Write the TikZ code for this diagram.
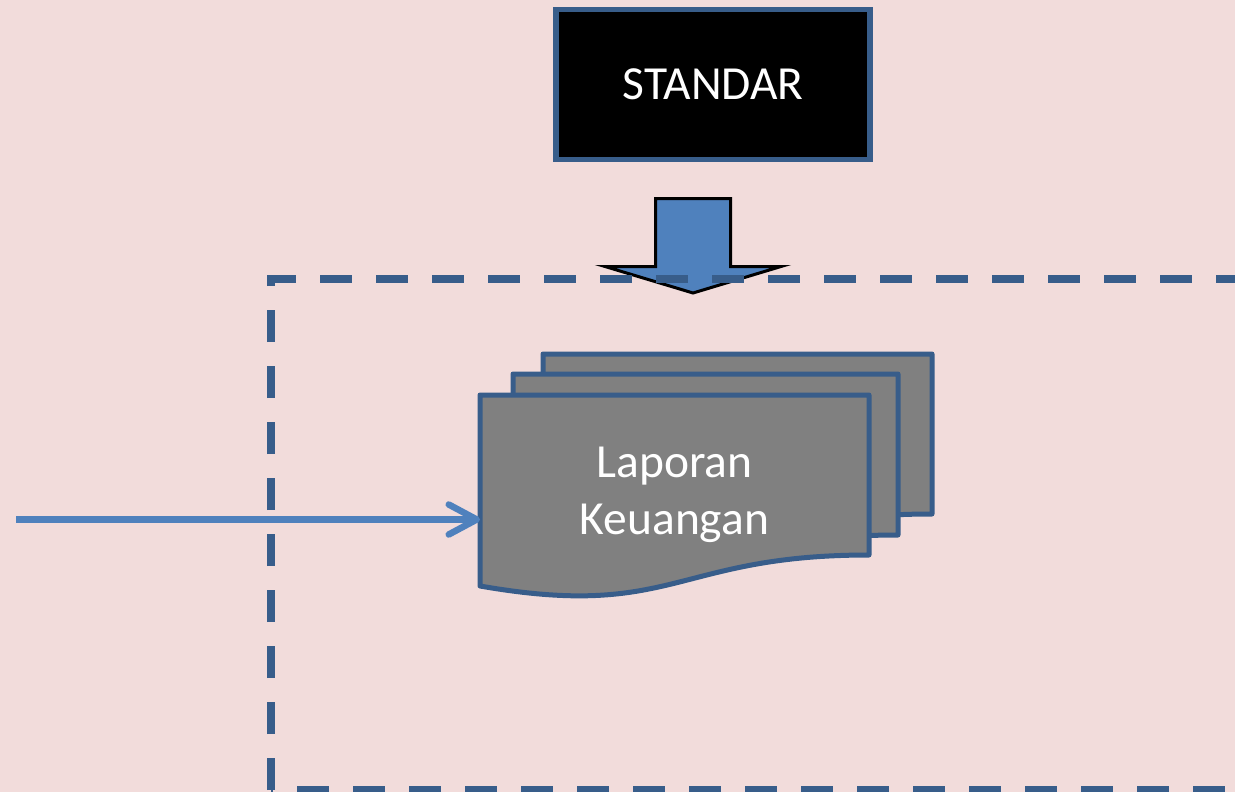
\documentclass[tikz,border=0pt]{standalone}
\usepackage{fontspec}
\setmainfont{Carlito}
\usetikzlibrary{arrows.meta}
\definecolor{bgpink}{HTML}{F2DCDB}
\definecolor{edgeblue}{HTML}{385D8A}
\definecolor{accentblue}{HTML}{4F81BD}
\definecolor{sheetgray}{HTML}{808080}
\tikzset{
  labeltext/.style={font=\fontsize{47.5}{57}\selectfont, text=white, align=center, inner sep=0pt, outer sep=0pt},
  sheet/.style={fill=sheetgray, draw=edgeblue, line width=5pt, line join=round},
  boundary/.style={draw=edgeblue, line width=8pt, dash pattern=on 32pt off 24pt},
  blockarrow/.style={fill=accentblue, draw=black, line width=3pt, line join=miter},
  flowline/.style={draw=accentblue, line width=6.5pt, -{Straight Barb[length=28pt, width=30pt, round]}}
}
\begin{document}
\begin{tikzpicture}[x=1pt, y=-1pt]
  % page background and fixed frame
  \fill[bgpink] (0,0) rectangle (1235,792);
  \useasboundingbox (0,0) rectangle (1235,792);

  % standard box at the top
  \node[labeltext, draw=edgeblue, fill=black, line width=5.5pt,
        minimum width=314pt, minimum height=149.5pt] (standar) at (713,84.5) {STANDAR};

  % stacked report sheets (back to front)
  \path[sheet] (543,354) -- (932,354) -- (932,514)
    .. controls (737.5,514) and (737.5,579) .. (543,545) -- cycle;
  \path[sheet] (513,374) -- (898,374) -- (898,535)
    .. controls (705.5,535) and (705.5,600) .. (513,566) -- cycle;
  \path[sheet] (480,395) -- (869,395) -- (869,555)
    .. controls (674.5,555) and (674.5,620) .. (480,586) -- cycle;
  \node[labeltext, minimum width=389pt] (report) at (674.5,495) {Laporan\\Keuangan};

  % incoming flow into the report
  \coordinate (src) at (16,519.5);
  \draw[flowline] (src) -- (src -| report.west);

  % block arrow from the standard down into the boundary
  \path[blockarrow] (655.5,198.5) -- (730.5,198.5) -- (730.5,266.5) -- (781,266.5)
    -- (693,293) -- (605,266.5) -- (655.5,266.5) -- cycle;

  % dashed boundary of the reporting area
  \path[boundary] (271,790) -- (271,279) -- (1300,279);
  \path[boundary, dash phase=30pt] (271,790) -- (1300,790);
\end{tikzpicture}
\end{document}
